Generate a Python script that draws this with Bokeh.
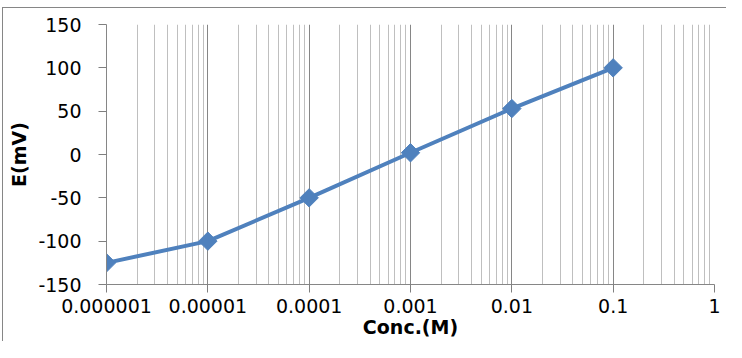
import numpy as np
from bokeh.plotting import figure
from bokeh.models import FixedTicker, CustomJSTickFormatter, ColumnDataSource
from bokeh.embed import file_html
from bokeh.resources import INLINE

# Data
conc = [1e-6, 1e-5, 1e-4, 1e-3, 1e-2, 1e-1]
emf = [-125, -100, -50, 2, 53, 100]

x_ticks = [1e-6, 1e-5, 1e-4, 1e-3, 1e-2, 1e-1, 1]
x_tick_labels = ["0.000001", "0.00001", "0.0001", "0.001", "0.01", "0.1", "1"]
y_ticks = [-150, -100, -50, 0, 50, 100, 150]

minor = [m * d for d in x_ticks[:-1] for m in range(2, 10)]

FONT = "DejaVu Sans"
AXIS_COL = "#868686"
BLUE = "#4F81BD"

p = figure(width=724, height=334, x_axis_type="log", x_range=(1e-6, 1), y_range=(-150, 150),
           output_backend="svg", toolbar_location=None,
           min_border_left=103, min_border_right=13, min_border_top=16, min_border_bottom=58)
p.margin = (7, 0, 0, 2)
p.styles = {"border-top": "1px solid #868686", "border-left": "1px solid #868686"}
p.outline_line_color = None
p.background_fill_color = "white"
p.border_fill_color = "white"

# X axis
p.xaxis.ticker = FixedTicker(ticks=x_ticks, minor_ticks=minor)
p.xaxis.formatter = CustomJSTickFormatter(args=dict(tvals=x_ticks, tlabels=x_tick_labels), code="""
const i = tvals.findIndex(t => Math.abs(Math.log10(t) - Math.log10(tick)) < 1e-6);
return i >= 0 ? tlabels[i] : '';
""")
p.xaxis.axis_label = "Conc.(M)"
p.xaxis.major_tick_out = 8
p.xaxis.major_tick_in = 0
p.xaxis.minor_tick_out = 0
p.xaxis.minor_tick_in = 0
p.xaxis.major_label_standoff = 6
p.xaxis.axis_label_standoff = 0

# Y axis
p.yaxis.ticker = FixedTicker(ticks=y_ticks)
p.yaxis.formatter = CustomJSTickFormatter(code="return String(tick);")
p.yaxis.axis_label = "E(mV)"
p.yaxis.major_tick_out = 8
p.yaxis.major_tick_in = 0
p.yaxis.minor_tick_out = 0
p.yaxis.minor_tick_in = 0
p.yaxis.major_label_standoff = 17
p.yaxis.axis_label_standoff = 5

for ax in (p.xaxis, p.yaxis):
    ax.axis_line_color = AXIS_COL
    ax.major_tick_line_color = "#7F7F7F"
    ax.major_tick_line_width = 1
    ax.major_label_text_font = FONT
    ax.major_label_text_font_size = "19px"
    ax.major_label_text_color = "black"
    ax.axis_label_text_font = FONT
    ax.axis_label_text_font_size = "19px"
    ax.axis_label_text_font_style = "bold"
    ax.axis_label_text_color = "black"

# Grid
p.ygrid.grid_line_color = None
p.xgrid.grid_line_color = AXIS_COL
p.xgrid.grid_line_width = 1
p.xgrid.minor_grid_line_color = "#BFBFBF"
p.xgrid.minor_grid_line_width = 1

src = ColumnDataSource(dict(x=conc, y=emf))
p.line("x", "y", source=src, line_color=BLUE, line_width=4)
p.scatter("x", "y", source=src, marker="square", angle=np.pi / 4, size=13,
          fill_color=BLUE, line_color=BLUE)

open("out.html", "w").write(file_html(p, INLINE))
